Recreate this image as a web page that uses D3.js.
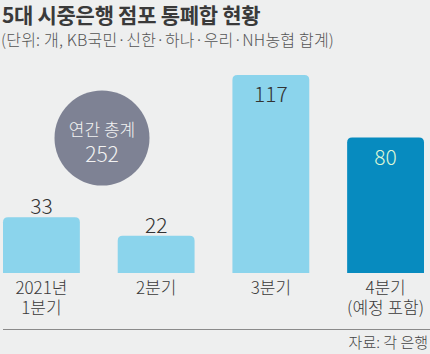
<!DOCTYPE html>
<html>
<head>
<meta charset="utf-8">
<script src="https://cdn.jsdelivr.net/npm/d3@7"></script>
<style>
    html, body { margin: 0; padding: 0; background: #eeefef; }
    svg { display: block; font-family: "Noto Sans CJK KR", "Noto Sans", sans-serif; }
</style>
</head>
<body>
<svg id="chart" width="430" height="354"></svg>
<script>
const quarters = ['2021년\n1분기', '2분기', '3분기', '4분기\n(예정 포함)'];
const closures = [33, 22, 117, 80];
const projected = [false, false, false, true];
const totalLabel = '연간 총계';
const totalValue = 252;

const width = 430, height = 354;
const margin = {left: 3, right: 6};
const baseline = 273;

const svg = d3.select('#chart');

svg.append('rect')
    .attr('width', width)
    .attr('height', height)
    .attr('fill', '#eeefef');

// title + unit
svg.append('text')
    .attr('x', 2)
    .attr('y', 23)
    .attr('font-size', 21)
    .attr('font-weight', 700)
    .attr('fill', '#3a3a3a')
    .attr('letter-spacing', -0.3)
    .text('5대 시중은행 점포 통폐합 현황');

svg.append('text')
    .attr('x', 1)
    .attr('y', 46)
    .attr('font-size', 16)
    .attr('font-weight', 300)
    .attr('fill', '#555')
    .attr('letter-spacing', 0.2)
    .text('(단위: 개, KB국민·신한·하나·우리·NH농협 합계)');

let x = d3.scaleBand()
    .domain(quarters)
    .range([margin.left, width - margin.right])
    .paddingInner(0.33)
    .paddingOuter(0);

let y = d3.scaleLinear()
    .domain([0, d3.max(closures)])
    .range([baseline, 75]);

function topRounded(x0, y0, w, h, r) {
    return 'M' + x0 + ',' + (y0 + h) +
        'V' + (y0 + r) +
        'Q' + x0 + ',' + y0 + ' ' + (x0 + r) + ',' + y0 +
        'H' + (x0 + w - r) +
        'Q' + (x0 + w) + ',' + y0 + ' ' + (x0 + w) + ',' + (y0 + r) +
        'V' + (y0 + h) + 'Z';
}

let bars = svg.append('g');
quarters.forEach(function (q, i) {
    let v = closures[i];
    let bx = x(q), bw = x.bandwidth(), by = y(v);
    bars.append('path')
        .attr('d', topRounded(bx, by, bw, baseline - by, 5))
        .attr('fill', projected[i] ? '#078bbf' : '#8bd4ec');

    // big bars carry the number inside
    let inside = (baseline - by) > 100;
    bars.append('text')
        .attr('x', bx + bw / 2)
        .attr('y', inside ? by + 27 : by - 3)
        .attr('text-anchor', 'middle')
        .attr('font-size', 21)
        .attr('font-weight', 300)
        .attr('fill', projected[i] ? '#dcf6d6' : '#333')
        .text(v);

    // category label, one text with a tspan per line
    let label = bars.append('text')
        .attr('x', bx + bw / 2)
        .attr('y', 294)
        .attr('text-anchor', 'middle')
        .attr('font-size', 17)
        .attr('font-weight', 300)
        .attr('fill', '#3a3a3a');
    q.split('\n').forEach(function (line, k) {
        label.append('tspan')
            .attr('x', bx + bw / 2)
            .attr('dy', k === 0 ? 0 : 20)
            .text(line);
    });
});

// annual total bubble
let bubble = svg.append('g').attr('transform', 'translate(102,138)');
bubble.append('circle')
    .attr('r', 47.5)
    .attr('fill', '#7e8294');
let bubbleText = bubble.append('text')
    .attr('y', -2)
    .attr('text-anchor', 'middle')
    .attr('font-weight', 300)
    .attr('fill', '#f2f2f2');
bubbleText.append('tspan')
    .attr('x', 0)
    .attr('font-size', 17)
    .text(totalLabel);
bubbleText.append('tspan')
    .attr('x', 0)
    .attr('dy', 26)
    .attr('font-size', 21)
    .text(totalValue);

// footer
svg.append('line')
    .attr('x1', 3).attr('x2', width)
    .attr('y1', 329.5).attr('y2', 329.5)
    .attr('stroke', '#8a8a8a')
    .attr('stroke-width', 1);

svg.append('text')
    .attr('x', 428)
    .attr('y', 348)
    .attr('text-anchor', 'end')
    .attr('font-size', 15)
    .attr('font-weight', 300)
    .attr('fill', '#444')
    .text('자료: 각 은행');
</script>
</body>
</html>
